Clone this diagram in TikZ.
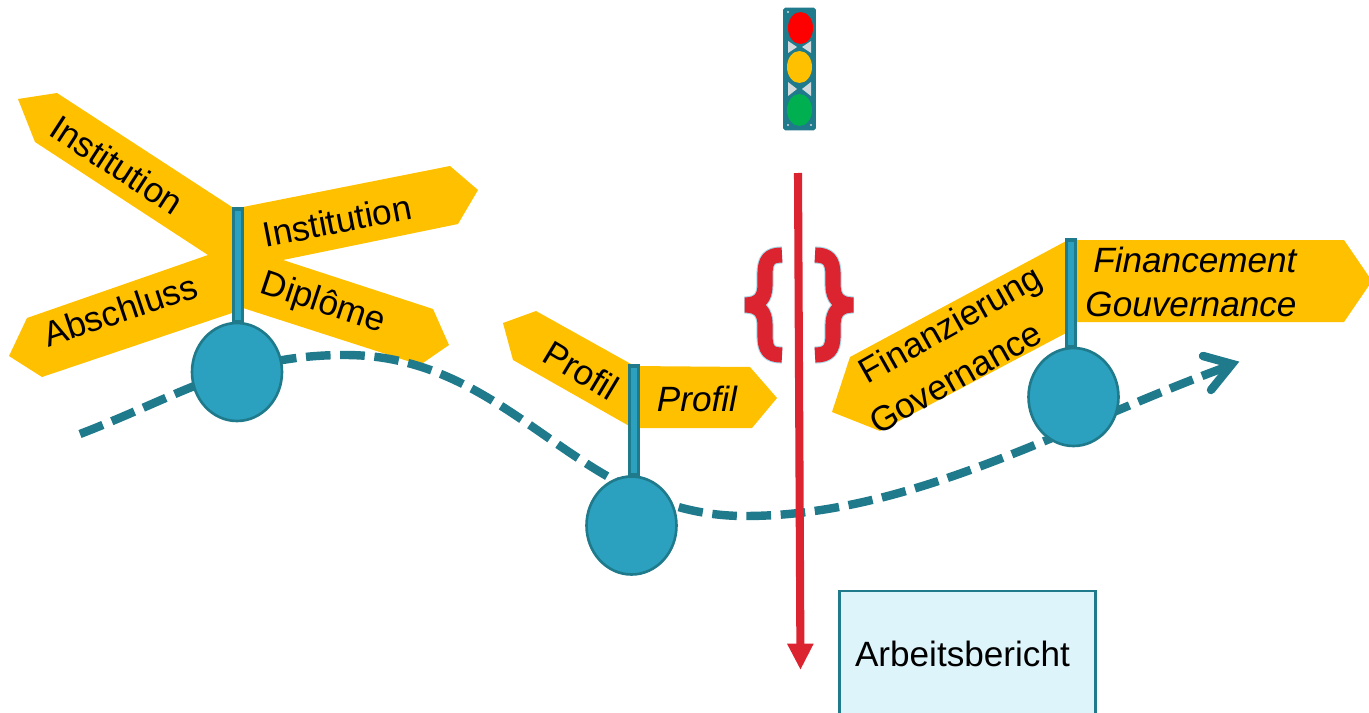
\documentclass[tikz,border=0pt]{standalone}
\usepackage{fontspec}
\setmainfont{Liberation Sans}
\usetikzlibrary{arrows.meta,shapes.geometric}
\definecolor{signamber}{HTML}{FFC000}
\definecolor{poleteal}{HTML}{1F7A8C}
\definecolor{stationblue}{HTML}{2CA1BF}
\definecolor{alarmred}{HTML}{DC2330}
\definecolor{bracehalo}{HTML}{A9DCEA}
\definecolor{reportfill}{HTML}{DDF4FA}
\definecolor{lampgrey}{HTML}{D3DADD}
\definecolor{lampgreen}{HTML}{00B050}
\begin{document}
\begin{tikzpicture}[
    x=0.02cm, y=-0.02cm,
    signboard/.style={fill=signamber},
    signtext/.style={font=\fontsize{20}{24}\selectfont, align=center, inner sep=0pt, text=black},
    pole/.style={draw=poleteal, fill=stationblue, line width=2pt},
    station/.style={ellipse, draw=poleteal, fill=stationblue, line width=1.5pt, inner sep=0pt, minimum width=1.8cm, minimum height=1.96cm},
    lamp/.style={ellipse, inner sep=0pt, minimum width=0.5cm, minimum height=0.64cm},
    journey/.style={draw=poleteal, line width=4.8pt, dash pattern=on 14pt off 5.5pt},
    alarm/.style={-{Triangle[length=15pt,width=14pt]}, draw=alarmred, fill=alarmred, line width=4.6pt},
    curly/.style={draw=alarmred, line width=8.6pt, line join=bevel, preaction={draw=bracehalo, line width=9.8pt, line join=bevel}}
]
    \useasboundingbox (0,0) rectangle (1369,713);
    \clip (0,0) rectangle (1369,713);

    % Schilder links
    \fill[signboard] (18,99) -- (57,93) -- (232,207) -- (243,260) -- (208,255) -- (35,142) -- cycle;
    \fill[signboard] (243,207) -- (450,166) -- (478,190) -- (458,224) -- (283,260) -- (232,260) -- (232,207) -- cycle;
    \fill[signboard] (208,255) -- (27,318) -- (9,356) -- (42,377) -- (232,313) -- (243,255) -- cycle;
    \fill[signboard] (283,260) -- (433,309) -- (449,345) -- (420,365) -- (243,308) -- (232,255) -- cycle;

    % Schilder Mitte
    \fill[signboard] (503,323) -- (536,311) -- (631,364) -- (631,427) -- (513,360) -- cycle;
    \fill[signboard] (631,366) -- (750,367) -- (777,398) -- (752,428) -- (631,428) -- cycle;

    % Schilder rechts
    \fill[signboard] (832,412) -- (850,357) -- (1068,240) -- (1068,332) -- (880,431) -- cycle;
    \fill[signboard] (1068,240) -- (1344,240) -- (1372,281) -- (1344,322) -- (1068,322) -- cycle;

    % Weg
    \coordinate (wayStart) at (80,434);
    \coordinate (wayTop) at (345,355);
    \coordinate (wayLow) at (745,516);
    \coordinate (wayEnd) at (1226,367);
    \draw[journey] (wayStart) to[out=21, in=180] (wayTop) to[out=0, in=180] (wayLow) to[out=0, in=200, looseness=0.85] (wayEnd);
    \draw[draw=poleteal, line width=4.8pt, line cap=round] (1203,356) -- (1232,364) -- (1211,390);

    % Stationen
    \node[station] (stationA) at (237,372) {};
    \node[station] (stationB) at (631.5,525.5) {};
    \node[station] (stationC) at (1073.5,397) {};

    % Pfosten
    \coordinate (topA) at (238,209);
    \coordinate (topB) at (634,366);
    \coordinate (topC) at (1071,240);
    \draw[pole] ([xshift=-2.5pt]topA) rectangle ([xshift=2.5pt]topA |- stationA.north);
    \draw[pole] ([xshift=-2.5pt]topB) rectangle ([xshift=2.5pt]topB |- stationB.north);
    \draw[pole] ([xshift=-2.5pt]topC) rectangle ([xshift=2.5pt]topC |- stationC.north);

    % Beschriftung
    \node[signtext, rotate=-33] (labelA) at (117,165) {Institution};
    \node[signtext, rotate=11] (labelB) at (337,221) {Institution};
    \node[signtext, rotate=18.5] (labelC) at (120,310) {Abschluss};
    \node[signtext, rotate=-18.5] (labelD) at (323,304) {Diplôme};
    \node[signtext, rotate=-31] (labelE) at (581,370) {Profil};
    \node[signtext, font=\fontsize{20}{24}\selectfont\itshape] (labelF) at (697,399) {Profil};
    \node[signtext, rotate=29.5, align=left, font=\fontsize{20}{28}\selectfont] (labelG) at (955,349) {\hspace*{9pt}Finanzierung\\Governance};
    \node[signtext, align=left, font=\fontsize{20}{25.5}\selectfont\itshape] (labelH) at (1191,282) {\hspace*{4.5pt}Financement\\Gouvernance};

    % Ampel
    \node[fill=poleteal, draw=poleteal, rounded corners=1pt, minimum width=0.64cm, minimum height=2.44cm, inner sep=0pt] (signal) at (799.5,69) {};
    \fill[lampgrey] (788,41) -- (797,47) -- (788,53) -- cycle (811,41) -- (802,47) -- (811,53) -- cycle;
    \fill[lampgrey] (788,82) -- (797,89) -- (788,96) -- cycle (811,82) -- (802,89) -- (811,96) -- cycle;
    \foreach \dotx/\doty in {788/12, 788/125, 811/125} {
        \fill[lampgrey] (\dotx,\doty) circle (0.7pt);
    }
    \node[lamp, fill=red] (lampRed) at (800.5,28) {};
    \node[lamp, fill=signamber] (lampAmber) at (799.5,67) {};
    \node[lamp, fill=lampgreen] (lampGreen) at (799.5,110) {};

    % Warnlinie
    \coordinate (alarmTop) at (798,173);
    \coordinate (alarmEnd) at (800.5,670);
    \draw[alarm] (alarmTop) -- (alarmEnd);

    % Klammern
    \draw[curly] (782,255) .. controls (769,255) and (765,260) .. (765,275) -- (765,285)
        .. controls (765,298) and (759,305) .. (745,305)
        .. controls (759,305) and (765,312) .. (765,325) -- (765,335)
        .. controls (765,350) and (769,355) .. (782,355);
    \draw[curly] (815,255) .. controls (828,255) and (833,260) .. (833,275) -- (833,285)
        .. controls (833,298) and (839,305) .. (853,305)
        .. controls (839,305) and (833,312) .. (833,325) -- (833,335)
        .. controls (833,350) and (828,355) .. (815,355);

    % Bericht
    \node[draw=poleteal, fill=reportfill, line width=1.5pt, minimum width=5.12cm, minimum height=2.5cm, inner sep=0pt, text width=4.5cm, align=left, font=\fontsize{20}{24}\selectfont] (report) at (967.5,653.5) {Arbeitsbericht};
\end{tikzpicture}
\end{document}
